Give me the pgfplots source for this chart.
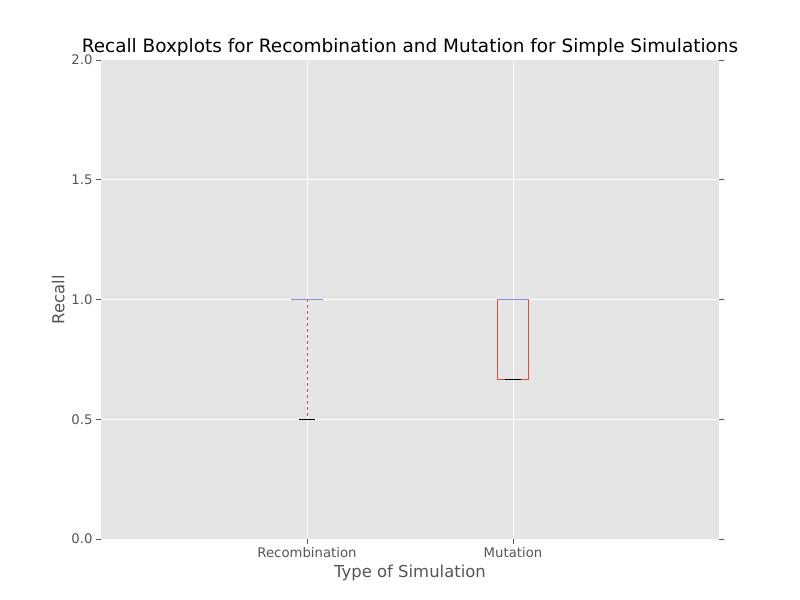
\documentclass[border=0pt]{standalone}
\usepackage{pgfplots}
\pgfplotsset{compat=1.18}
\usepgfplotslibrary{statistics}
\usepackage{fontspec}
\setmainfont{DejaVu Sans}
\definecolor{bg}{HTML}{E5E5E5}
\definecolor{bred}{HTML}{E24A33}
\definecolor{bblue}{HTML}{8E8EDB}
\definecolor{lab}{HTML}{555555}
\begin{document}
\begin{tikzpicture}
\path (0,0) rectangle (800bp,600bp);
\begin{axis}[at={(101bp,61bp)}, anchor=south west, scale only axis,
  width=618bp, height=479bp,
  xmin=0, xmax=3, ymin=0, ymax=2,
  axis background/.style={fill=bg}, axis line style={draw=none},
  grid=major, grid style={white, line width=1pt},
  xtick={1,2}, xticklabels={Recombination,Mutation},
  ytick={0,0.5,1,1.5,2}, yticklabels={0.0,0.5,1.0,1.5,2.0},
  tick align=outside, xtick pos=bottom, ytick pos=both,
  major tick length=5bp, tick style={lab, line width=0.8pt},
  ticklabel style={font=\fontsize{13.3}{15}\selectfont, text=lab},
  xlabel={Type of Simulation}, ylabel={Recall},
  label style={font=\fontsize{16.5}{19}\selectfont, text=lab},
  title={Recall Boxplots for Recombination and Mutation for Simple Simulations},
  title style={font=\fontsize{18.5}{21}\selectfont, yshift=-6bp},
  boxplot/draw direction=y,
  boxplot/box extend=0.155, boxplot/whisker extend=0,
  boxplot/every box/.style={draw=bred, line width=1pt},
  boxplot/every whisker/.style={draw=bred, dashed, line width=1pt},
  boxplot/every median/.style={draw=bblue, line width=1.8pt},
]
\addplot+[mark=none, boxplot prepared={draw position=1, lower whisker=0.5, lower quartile=1.0, median=1.0, upper quartile=1.0, upper whisker=1.0}] coordinates {};
\addplot+[mark=none, boxplot prepared={draw position=2, lower whisker=0.6667, lower quartile=0.6667, median=1.0, upper quartile=1.0, upper whisker=1.0}] coordinates {};
\addplot[black, line width=1.2pt] coordinates {(0.961,0.5) (1.039,0.5)};
\addplot[black, line width=1.2pt] coordinates {(1.961,0.6667) (2.039,0.6667)};
\addplot[bblue, line width=1.8pt] coordinates {(0.9225,1) (1.0775,1)};
\end{axis}
\end{tikzpicture}
\end{document}
